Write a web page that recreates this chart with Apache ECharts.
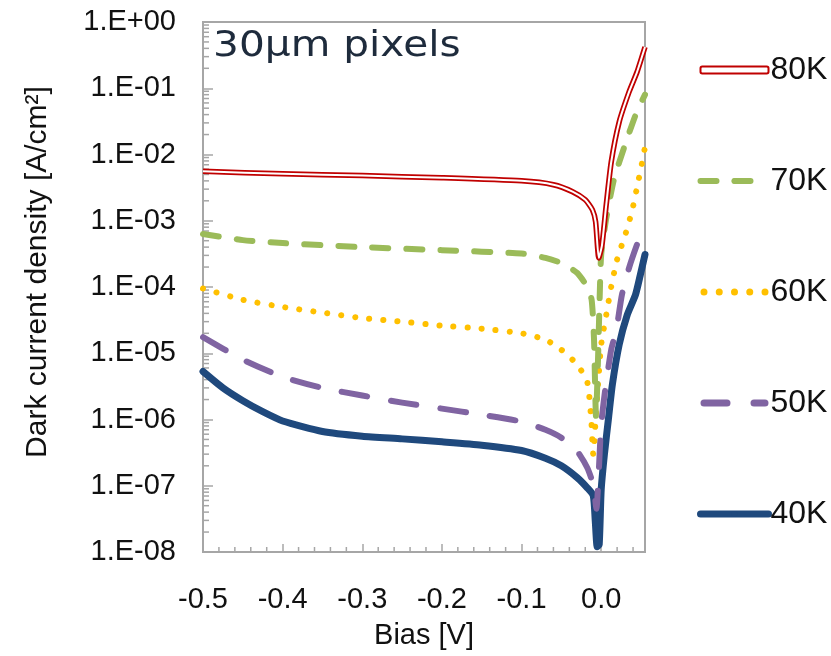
<!DOCTYPE html>
<html><head><meta charset="utf-8">
<script src="https://cdn.jsdelivr.net/npm/echarts@6/dist/echarts.min.js"></script>
<style>html,body{margin:0;padding:0;background:#fff}#c{width:831px;height:656px}</style>
</head><body><div id="c"></div>
<script>
// ---- data ----
const bias40 = [-0.5,-0.475,-0.45,-0.425,-0.4,-0.35,-0.3,-0.25,-0.2,-0.15,-0.1,-0.07,-0.05,-0.03,-0.0175,-0.01,-0.0075,-0.005,-0.0025,0,0.004,0.009,0.014,0.0226,0.0327,0.043,0.049,0.055];
const j40 = [5.3e-6,3.0e-6,1.92e-6,1.31e-6,0.95e-6,6.6e-7,5.6e-7,5.1e-7,4.6e-7,4.1e-7,3.4e-7,2.6e-7,2.0e-7,1.32e-7,9.3e-8,7.1e-8,3.0e-8,1.2e-8,1.3e-8,8.7e-8,2.95e-7,1.0e-6,3.35e-6,1.35e-5,3.8e-5,7.6e-5,1.5e-4,3.1e-4];

const bias50 = [-0.5,-0.45,-0.4,-0.35,-0.3,-0.25,-0.2,-0.15,-0.1,-0.07,-0.05,-0.03,-0.0175,-0.01,-0.006,-0.003,0,0.005,0.0125,0.019,0.026,0.035,0.047,0.055];
const j50 = [1.75e-5,8.0e-6,4.4e-6,3.0e-6,2.3e-6,1.8e-6,1.46e-6,1.18e-6,9.3e-7,7.0e-7,5.3e-7,3.3e-7,1.87e-7,1.04e-7,4.5e-8,1.7e-7,8.3e-7,2.8e-6,1.12e-5,2.25e-5,7.6e-5,1.95e-4,5.1e-4,8.0e-4];

const bias60 = [-0.5,-0.45,-0.4,-0.35,-0.3,-0.25,-0.2,-0.15,-0.1,-0.07,-0.05,-0.03,-0.0175,-0.0125,-0.01,-0.007,-0.004,0,0.0075,0.0125,0.02,0.031,0.039,0.045,0.0515,0.055];
const j60 = [9.5e-5,6.4e-5,5.0e-5,4.1e-5,3.4e-5,3.0e-5,2.6e-5,2.35e-5,2.0e-5,1.6e-5,1.13e-5,6.7e-6,3.7e-6,1.0e-6,3.0e-7,1.0e-6,3.4e-6,1.35e-5,4.55e-5,1.0e-4,2.6e-4,6.6e-4,1.45e-3,3.2e-3,7.7e-3,1.3e-2];

const bias70 = [-0.5,-0.45,-0.4,-0.3,-0.2,-0.1,-0.07,-0.05,-0.03,-0.0175,-0.012,-0.009,-0.0065,-0.004,-0.002,0,0.006,0.016,0.029,0.044,0.055];
const j70 = [6.3e-4,5.1e-4,4.6e-4,4.0e-4,3.6e-4,3.2e-4,2.75e-4,2.3e-4,1.63e-4,1.0e-4,6.4e-5,1.6e-5,1.1e-6,8.0e-6,6.4e-5,3.1e-4,1.03e-3,4.2e-3,1.3e-2,4.2e-2,8.0e-2];

const bias80 = [-0.5,-0.4,-0.3,-0.2,-0.1,-0.06,-0.036,-0.02,-0.011,-0.007,-0.003,0.001,0.006,0.0126,0.0226,0.035,0.045,0.055];
const j80 = [5.6e-3,5.1e-3,4.8e-3,4.45e-3,4.0e-3,3.5e-3,2.75e-3,2.07e-3,1.46e-3,9.6e-4,2.75e-4,4.3e-4,1.6e-3,7.7e-3,3.1e-2,8.8e-2,0.176,0.42];

const seriesNames = ['80K','70K','60K','50K','40K'];
const xMajorTicks = [-0.5,-0.4,-0.3,-0.2,-0.1,0.0];
const yDecadeExponents = [-8,-7,-6,-5,-4,-3,-2,-1];
const yMinorMultipliers = [2,3,4,5,6,7,8,9];
const titleText = '30μm pixels';

const X_MIN = -0.5, X_MAX = 0.055, Y_MIN = 1e-8, Y_MAX = 1;
const GREY = '#A6A6A6';
const FONT = 'Liberation Sans';
const TXT = '#111';

// legend icon shapes (68 x 7 box)
const ICON_DOTS = 'path://' + [3.5, 18.75, 34, 49.25, 64.5].map(c =>
  'M' + (c - 3.5) + ',3.5a3.5,3.5 0 1 0 7,0a3.5,3.5 0 1 0 -7,0Z').join(' ');
const ICON_LONGDASH = 'path://M3.5,0H26.5A3.5,3.5 0 0 1 26.5,7H3.5A3.5,3.5 0 0 1 3.5,0Z M53.5,0H64.5A3.5,3.5 0 0 1 64.5,7H53.5A3.5,3.5 0 0 1 53.5,0Z';

function pairs(xs, ys){ return xs.map((x,i)=>[x, ys[i]]); }

// minor tick positions
const yMinorData = [];
yDecadeExponents.forEach(e => yMinorMultipliers.forEach(m => yMinorData.push([X_MIN, m * Math.pow(10, e)])));
const xMinorData = [];
xMajorTicks.forEach(t => [0.02,0.04,0.06,0.08].forEach(d => { const v = +(t + d).toFixed(3); if (v < X_MAX) xMinorData.push([v, Y_MIN]); }));

function expLabel(v){
  const e = Math.round(Math.log10(v));
  const a = Math.abs(e);
  return '1.E' + (e >= 0 ? '+' : '-') + (a < 10 ? '0' + a : '' + a);
}

const chart = echarts.init(document.getElementById('c'), null, {renderer:'canvas'});
const lineBase = {type:'line', symbol:'none', showSymbol:false, smooth:0.2, silent:true};

chart.setOption({
  animation:false,
  backgroundColor:'#fff',
  graphic:[{
    type:'text', x:213, y:29, scaleX:1.13, z:10,
    style:{text:titleText, fontFamily:'DejaVu Sans', fontSize:36, fill:'#1E2B3C', verticalAlign:'top'}
  }],
  grid:{left:203, right:186, top:22, bottom:104, show:true, borderColor:GREY, borderWidth:2, backgroundColor:'transparent'},
  legend:{
    orient:'vertical', left:692, top:49, itemWidth:68, itemHeight:7, itemGap:79,
    textStyle:{fontFamily:FONT, fontSize:32, color:TXT, padding:[0,0,0,-3]},
    data:[
      {name:'80K', icon:'roundRect', itemStyle:{color:'#fff', borderColor:'#C00000', borderWidth:2}},
      {name:'70K', lineStyle:{width:6}},
      {name:'60K', icon:ICON_DOTS, itemStyle:{color:'#FFC000'}},
      {name:'50K', icon:ICON_LONGDASH, itemStyle:{color:'#8064A2'}},
      {name:'40K', lineStyle:{width:7}}
    ]
  },
  xAxis:{
    type:'value', min:X_MIN, max:X_MAX, interval:0.1,
    name:'Bias [V]', nameLocation:'middle', nameGap:69,
    nameTextStyle:{fontFamily:FONT, fontSize:29, color:TXT},
    axisLine:{show:true, onZero:false, lineStyle:{color:GREY, width:2}},
    axisTick:{show:true, inside:true, length:8, lineStyle:{color:GREY, width:1.5}},
    splitLine:{show:false},
    axisLabel:{fontFamily:FONT, fontSize:29, color:TXT, margin:33, showMaxLabel:false,
      formatter:v => Math.abs(v) < 1e-9 ? '0.0' : v.toFixed(1)}
  },
  yAxis:{
    type:'log', logBase:10, min:Y_MIN, max:Y_MAX, interval:1, splitNumber:8,
    name:'Dark current density [A/cm²]', nameLocation:'middle', nameGap:150,
    nameTextStyle:{fontFamily:FONT, fontSize:30, color:TXT, padding:[0,0,0,30]},
    axisLine:{show:true, onZero:false, lineStyle:{color:GREY, width:2}},
    axisTick:{show:true, inside:true, length:10, lineStyle:{color:GREY, width:1.5}},
    splitLine:{show:false},
    axisLabel:{fontFamily:FONT, fontSize:29, color:TXT, margin:27, formatter:expLabel}
  },
  series:[
    {type:'custom', name:'yminor', silent:true, z:1, data:yMinorData,
      renderItem:(p, api) => { const c = api.coord([api.value(0), api.value(1)]);
        return {type:'line', shape:{x1:c[0], y1:c[1], x2:c[0]+6, y2:c[1]}, style:{stroke:GREY, lineWidth:1.5}}; }},
    {type:'custom', name:'xminor', silent:true, z:1, data:xMinorData,
      renderItem:(p, api) => { const c = api.coord([api.value(0), api.value(1)]);
        return {type:'line', shape:{x1:c[0], y1:c[1], x2:c[0], y2:c[1]-5}, style:{stroke:GREY, lineWidth:1.5}}; }},
    Object.assign({}, lineBase, {name:'40K', data:pairs(bias40, j40),
      lineStyle:{color:'#1F497D', width:7, cap:'round', join:'round'}, itemStyle:{color:'#1F497D'}}),
    Object.assign({}, lineBase, {name:'50K', data:pairs(bias50, j50),
      lineStyle:{color:'#8064A2', width:6, type:[26,24], cap:'round', join:'round'}, itemStyle:{color:'#8064A2'}}),
    Object.assign({}, lineBase, {name:'60K', data:pairs(bias60, j60),
      lineStyle:{color:'#FFC000', width:6, type:[0.1,14], cap:'round', join:'round'}, itemStyle:{color:'#FFC000'}}),
    Object.assign({}, lineBase, {name:'70K', data:pairs(bias70, j70),
      lineStyle:{color:'#9BBB59', width:6, type:[16,18], cap:'round', join:'round'}, itemStyle:{color:'#9BBB59'}}),
    Object.assign({}, lineBase, {name:'80K', data:pairs(bias80, j80),
      lineStyle:{color:'#C00000', width:5.5, join:'round'}, itemStyle:{color:'#C00000'}}),
    Object.assign({}, lineBase, {name:'80K core', data:pairs(bias80, j80), z:3,
      lineStyle:{color:'#FFFFFF', width:2, join:'round'}, itemStyle:{color:'#FFFFFF'}})
  ]
});
</script>
</body></html>
